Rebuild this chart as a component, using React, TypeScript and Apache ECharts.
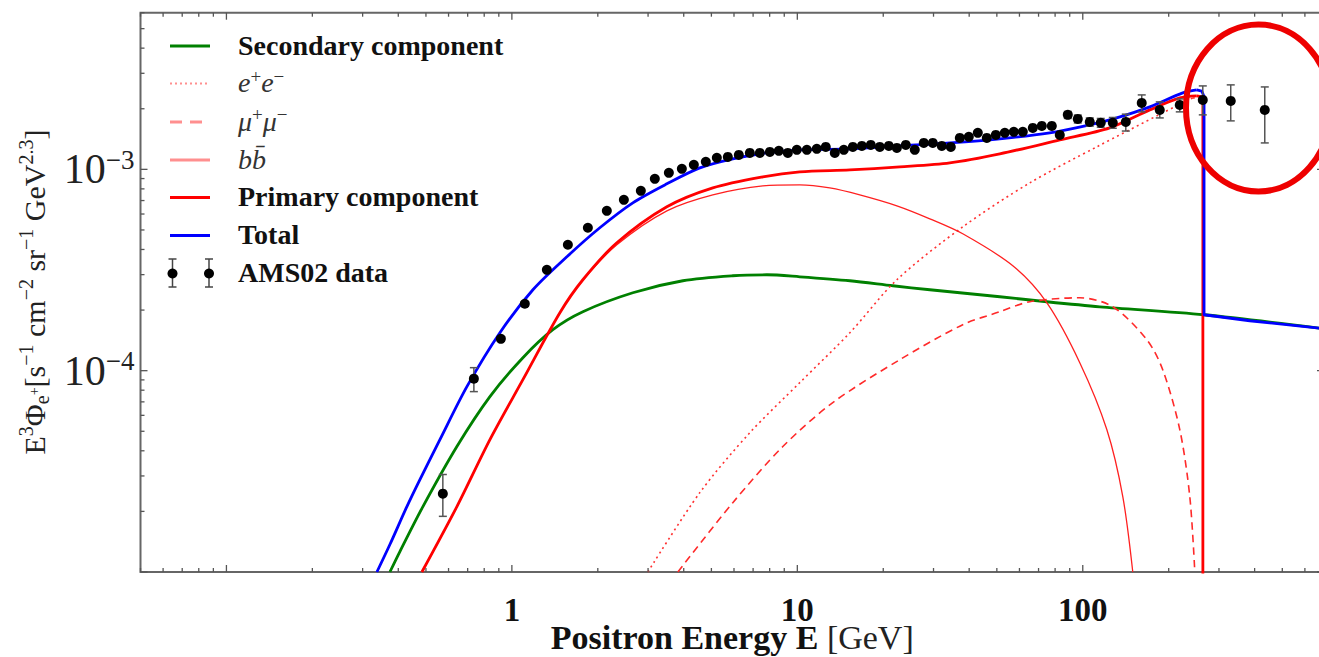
import React, { useEffect, useRef } from "react";
import * as echarts from "echarts";

const WIDTH = 1319;
const HEIGHT = 657;

const X_MIN = 0.05;
const X_MAX = 700;
const Y_MIN = 1e-5;
const Y_MAX = 6e-3;

// tick labels
const xLabelValues = [1, 10, 100];
const xLabelTexts = ["1", "10", "100"];
const yLabelValues = [1e-4, 1e-3];
const yLabelExponents = ["\u22124", "\u22123"];

// tick positions
const xMajorTicks = [0.1, 1, 10, 100];
const xMinorTicks = [0.05, 0.06, 0.07, 0.08, 0.09, 0.2, 0.3, 0.4, 0.5, 0.6, 0.7, 0.8, 0.9, 2, 3, 4, 5, 6, 7, 8, 9, 20, 30, 40, 50, 60, 70, 80, 90, 200, 300, 400, 500, 600, 700];
const yMajorTicks = [1e-5, 1e-4, 1e-3];
const yMinorTicks = [2e-5, 3e-5, 4e-5, 5e-5, 6e-5, 7e-5, 8e-5, 9e-5, 2e-4, 3e-4, 4e-4, 5e-4, 6e-4, 7e-4, 8e-4, 9e-4, 2e-3, 3e-3, 4e-3, 5e-3, 6e-3];

// Secondary component (green)
const secondaryE = [0.3738, 0.4052, 0.4879, 0.6418, 0.8377, 1.093, 1.392, 1.773, 2.653, 3.972, 5.943, 7.819, 10.2, 15.28, 21.6, 29.12, 51.21, 74.79, 114.7, 266, 700];
const secondaryF = [1.0e-5, 1.264e-5, 2.113e-5, 4.2e-5, 7.43e-5, 1.16e-4, 1.598e-4, 1.963e-4, 2.438e-4, 2.797e-4, 2.961e-4, 2.995e-4, 2.927e-4, 2.797e-4, 2.642e-4, 2.523e-4, 2.329e-4, 2.2e-4, 2.077e-4, 1.896e-4, 1.616e-4];

// e+e- channel (dotted)
const eeE = [2.995, 4.555, 6.818, 10.2, 15.28, 22.32, 37.98, 65.23, 111.9, 190.6, 242.8];
const eeF = [1.0e-5, 2.48e-5, 4.92e-5, 8.72e-5, 1.544e-4, 2.829e-4, 5.18e-4, 8.57e-4, 1.293e-3, 1.908e-3, 2.263e-3];
const eeCutE = [242.8, 263.5, 263.5];
const eeCutF = [2.263e-3, 2.25e-3, 1.0e-7];

// mu+mu- channel (dashed)
const mumuE = [3.814, 5.943, 8.897, 13.31, 22.86, 37.98, 51.21, 65.23, 97.61, 127.4, 167.6, 190.6, 218.7, 237.1, 246.9];
const mumuF = [1.0e-5, 2.21e-5, 4.2e-5, 6.94e-5, 1.134e-4, 1.692e-4, 1.963e-4, 2.2e-4, 2.303e-4, 2.077e-4, 1.425e-4, 1.011e-4, 5.1e-5, 2.37e-5, 1.0e-5];

// b bbar channel (thin)
const bbE = [0.4839, 0.6418, 0.8377, 1.093, 1.473, 1.773, 2.332, 3.491, 5.058, 7.573, 10.2, 12.99, 16.55, 22.32, 29.12, 37.98, 56.87, 74.79, 97.61, 121.4, 138.1, 149.7];
const bbF = [1.0e-5, 2.113e-5, 4.545e-5, 9.02e-5, 1.94e-4, 2.81e-4, 4.22e-4, 6.22e-4, 7.47e-4, 8.28e-4, 8.38e-4, 8.09e-4, 7.47e-4, 6.59e-4, 5.68e-4, 4.785e-4, 3.32e-4, 2.176e-4, 1.096e-4, 5.1e-5, 2.37e-5, 1.0e-5];

// Primary component (red)
const primaryE = [0.4839, 0.6418, 0.8377, 1.093, 1.473, 1.773, 2.332, 3.491, 5.058, 7.573, 10.2, 15.28, 22.86, 34.21, 51.21, 83.08, 124.3, 171.7, 218.7, 250.8];
const primaryF = [1.0e-5, 2.113e-5, 4.545e-5, 9.02e-5, 1.94e-4, 2.829e-4, 4.317e-4, 6.515e-4, 8.093e-4, 9.18e-4, 9.72e-4, 9.94e-4, 1.029e-3, 1.077e-3, 1.194e-3, 1.401e-3, 1.607e-3, 1.974e-3, 2.263e-3, 2.316e-3];
const primaryCutE = [250.8, 260, 263.5, 263.5];
const primaryCutF = [2.316e-3, 2.3e-3, 2.21e-3, 1.0e-7];

// Total (blue)
const totalE = [0.3366, 0.3738, 0.4287, 0.4762, 0.5596, 0.6957, 0.9078, 1.185, 1.558, 2.033, 2.653, 3.491, 4.555, 5.943, 7.819, 10.2, 15.28, 22.86, 34.21, 51.21, 76.63, 105.8, 131.5, 171.7, 224.0, 250.8];
const totalF = [1.0e-5, 1.369e-5, 2.113e-5, 2.878e-5, 4.545e-5, 8.329e-5, 1.544e-4, 2.523e-4, 3.679e-4, 5.127e-4, 6.819e-4, 8.472e-4, 1.017e-3, 1.128e-3, 1.207e-3, 1.25e-3, 1.264e-3, 1.308e-3, 1.353e-3, 1.417e-3, 1.518e-3, 1.663e-3, 1.801e-3, 2.043e-3, 2.397e-3, 2.481e-3];
const totalCutE = [250.8, 261, 266, 266, 384.6, 700];
const totalCutF = [2.481e-3, 2.45e-3, 2.3e-3, 1.896e-4, 1.77e-4, 1.616e-4];

// AMS02 data
const amsE = [0.573, 0.736, 0.915, 1.11, 1.326, 1.571, 1.846, 2.151, 2.468, 2.83, 3.168, 3.548, 3.94, 4.34, 4.78, 5.224, 5.709, 6.238, 6.818, 7.39, 8.013, 8.614, 9.263, 9.96, 10.8, 11.7, 12.58, 13.53, 14.55, 15.65, 16.83, 18.09, 19.45, 20.92, 22.32, 23.99, 25.79, 27.74, 29.83, 32.07, 34.49, 37.09, 39.88, 42.88, 46.11, 49.58, 53.32, 57.33, 61.65, 66.83, 71.86, 77.9, 83.08, 88.62, 96.05, 105.8, 115.6, 127.4, 141.5, 160.9, 186.1, 218.7, 263.3, 329.9, 434.1];
const amsF = [2.45e-5, 9.13e-5, 1.44e-4, 2.15e-4, 3.17e-4, 4.22e-4, 5.13e-4, 6.22e-4, 7.06e-4, 7.82e-4, 8.97e-4, 9.61e-4, 1.006e-3, 1.053e-3, 1.09e-3, 1.141e-3, 1.153e-3, 1.18e-3, 1.207e-3, 1.207e-3, 1.221e-3, 1.236e-3, 1.207e-3, 1.25e-3, 1.25e-3, 1.264e-3, 1.293e-3, 1.207e-3, 1.25e-3, 1.293e-3, 1.308e-3, 1.323e-3, 1.293e-3, 1.308e-3, 1.278e-3, 1.323e-3, 1.25e-3, 1.353e-3, 1.353e-3, 1.308e-3, 1.293e-3, 1.433e-3, 1.45e-3, 1.518e-3, 1.433e-3, 1.483e-3, 1.518e-3, 1.536e-3, 1.536e-3, 1.607e-3, 1.644e-3, 1.644e-3, 1.483e-3, 1.865e-3, 1.781e-3, 1.721e-3, 1.702e-3, 1.702e-3, 1.721e-3, 2.138e-3, 1.974e-3, 2.09e-3, 2.213e-3, 2.188e-3, 1.974e-3];
const amsErrLo = [1.89e-5, 7.87e-5, null, null, null, null, null, null, null, null, null, null, null, null, null, null, null, null, null, null, null, null, null, null, null, null, null, null, null, null, null, null, null, null, null, null, null, null, null, null, null, null, null, null, null, null, null, null, null, null, null, null, null, 1.79e-3, 1.70e-3, 1.64e-3, 1.62e-3, 1.60e-3, 1.55e-3, 1.93e-3, 1.801e-3, 1.93e-3, 1.865e-3, 1.741e-3, 1.353e-3];
const amsErrHi = [3.05e-5, 1.035e-4, null, null, null, null, null, null, null, null, null, null, null, null, null, null, null, null, null, null, null, null, null, null, null, null, null, null, null, null, null, null, null, null, null, null, null, null, null, null, null, null, null, null, null, null, null, null, null, null, null, null, null, 1.94e-3, 1.86e-3, 1.80e-3, 1.79e-3, 1.81e-3, 1.88e-3, 2.343e-3, 2.163e-3, 2.238e-3, 2.597e-3, 2.628e-3, 2.567e-3];

// legend entries
const legendLabels = ["Secondary component", "e+e\u2212", "\u03bc+\u03bc\u2212", "bb\u0304", "Primary component", "Total", "AMS02 data"];

const SERIF = '"Liberation Serif", "Times New Roman", serif';
const RED = "#ff0000";
const BLUE = "#0000ff";
const GREEN = "#008000";
const FRAME = "#666666";
const TICK = "#555555";

const pts = (xs: number[], ys: number[]) => xs.map((x, i) => [x, ys[i]]);

const isNear = (a: number, b: number) => Math.abs(Math.log10(a) - Math.log10(b)) < 1e-6;

function lineSeries(name: string, xs: number[], ys: number[], color: string, width: number, type: any, smooth: any, z: number) {
  return {
    name,
    type: "line",
    data: pts(xs, ys),
    showSymbol: false,
    symbol: "none",
    smooth,
    silent: true,
    clip: true,
    z,
    emphasis: { disabled: true },
    lineStyle: { color, width, type, cap: "butt", join: "round" },
  };
}

export default function App() {
  const ref = useRef<HTMLDivElement>(null);

  useEffect(() => {
    const chart = echarts.init(ref.current as HTMLDivElement, null, { renderer: "svg", width: WIDTH, height: HEIGHT });

    const xTickData = [
      ...xMajorTicks.map((v) => [v, Y_MIN, 1]),
      ...xMinorTicks.map((v) => [v, Y_MIN, 0]),
    ];
    const yTickData = [
      ...yMajorTicks.map((v) => [X_MIN, v, 1]),
      ...yMinorTicks.map((v) => [X_MIN, v, 0]),
    ];
    const errData = amsE
      .map((e, i) => [e, amsErrLo[i], amsErrHi[i]])
      .filter((d) => d[1] != null && d[2] != null);

    const tickStyle = { stroke: TICK, lineWidth: 1.3 };

    // legend graphics
    const rowY = [46, 83.5, 122, 160, 197.5, 235.5, 273.5];
    const lx1 = 170;
    const lx2 = 210;
    const tx = 238;
    const legendEls: any[] = [];
    const sample = (y: number, stroke: string, lw: number, dash: any) => ({
      type: "line",
      z: 100,
      silent: true,
      shape: { x1: lx1, y1: y, x2: lx2, y2: y },
      style: { stroke, lineWidth: lw, lineDash: dash, lineCap: "butt" },
    });
    legendEls.push(sample(rowY[0], GREEN, 3, null));
    legendEls.push(sample(rowY[1], "#ff8f8f", 2.2, [2, 3]));
    legendEls.push(sample(rowY[2], "#ff8f8f", 3, [12, 8]));
    legendEls.push(sample(rowY[3], "#ff8f8f", 3, null));
    legendEls.push(sample(rowY[4], RED, 3, null));
    legendEls.push(sample(rowY[5], BLUE, 3, null));
    [172.5, 209].forEach((x) => {
      legendEls.push({ type: "line", z: 100, silent: true, shape: { x1: x, y1: 259, x2: x, y2: 287 }, style: { stroke: "#444", lineWidth: 1.5 } });
      legendEls.push({ type: "line", z: 100, silent: true, shape: { x1: x - 4, y1: 259, x2: x + 4, y2: 259 }, style: { stroke: "#444", lineWidth: 1.5 } });
      legendEls.push({ type: "line", z: 100, silent: true, shape: { x1: x - 4, y1: 287, x2: x + 4, y2: 287 }, style: { stroke: "#444", lineWidth: 1.5 } });
      legendEls.push({ type: "circle", z: 101, silent: true, shape: { cx: x, cy: rowY[6], r: 5 }, style: { fill: "#000" } });
    });

    const plainRich = {
      t: { fontFamily: SERIF, fontSize: 28, fontWeight: "bold", fill: "#111", color: "#111", lineHeight: 32 },
    };
    const mathRich = {
      i: { fontFamily: SERIF, fontSize: 28, fontStyle: "italic", fill: "#333", color: "#333", lineHeight: 32, verticalAlign: "middle" },
      p: { fontFamily: SERIF, fontSize: 19, fill: "#333", color: "#333", lineHeight: 19, verticalAlign: "top" },
    };
    const legendTexts = [
      { text: `{t|${legendLabels[0]}}`, rich: plainRich },
      { text: "{i|e}{p|+}{i|e}{p|\u2212}", rich: mathRich },
      { text: "{i|\u03bc}{p|+}{i|\u03bc}{p|\u2212}", rich: mathRich },
      { text: "{i|bb\u0304}", rich: mathRich },
      { text: `{t|${legendLabels[4]}}`, rich: plainRich },
      { text: `{t|${legendLabels[5]}}`, rich: plainRich },
      { text: `{t|${legendLabels[6]}}`, rich: plainRich },
    ];
    legendTexts.forEach((lt, i) => {
      legendEls.push({
        type: "text",
        z: 100,
        silent: true,
        x: tx,
        y: rowY[i] - 1,
        style: { text: lt.text, rich: lt.rich, align: "left", verticalAlign: "middle", fontFamily: SERIF, fontSize: 28 },
      });
    });

    // y-axis title
    const yTitle = {
      type: "text",
      z: 100,
      silent: true,
      x: 34,
      y: 292,
      rotation: Math.PI / 2,
      style: {
        text: "{n|E}{sp|3}{n|\u03a6}{sb|e}{sbp|+}{n|[s}{sp|\u22121}{n| cm}{sp|\u22122}{n| sr}{sp|\u22121}{n| GeV}{sp|2.3}{n|]}",
        align: "center",
        verticalAlign: "middle",
        fontFamily: SERIF,
        fontSize: 30,
        rich: {
          n: { fontFamily: SERIF, fontSize: 30, lineHeight: 36, verticalAlign: "middle", fill: "#222", color: "#222" },
          sp: { fontFamily: SERIF, fontSize: 20, lineHeight: 20, verticalAlign: "top", fill: "#222", color: "#222" },
          sb: { fontFamily: SERIF, fontSize: 20, lineHeight: 20, verticalAlign: "bottom", fill: "#222", color: "#222" },
          sbp: { fontFamily: SERIF, fontSize: 14, lineHeight: 14, verticalAlign: "middle", fill: "#222", color: "#222" },
        },
      },
    };

    const circle = {
      type: "ellipse",
      z: 200,
      silent: true,
      shape: { cx: 1258.5, cy: 108, rx: 72.5, ry: 83.5 },
      style: { fill: "none", stroke: "#ee0000", lineWidth: 6 },
    };

    const option: any = {
      animation: false,
      backgroundColor: "#ffffff",
      grid: {
        left: 140.5,
        top: 12.7,
        right: -5,
        bottom: 85,
        show: true,
        containLabel: false,
        outerBoundsMode: "none",
        borderColor: FRAME,
        borderWidth: 2,
        backgroundColor: "transparent",
      },
      xAxis: {
        type: "log",
        logBase: 10,
        min: X_MIN,
        max: X_MAX,
        axisLine: { show: false },
        axisTick: { show: false },
        minorTick: { show: false },
        splitLine: { show: false },
        axisLabel: {
          show: true,
          margin: 25,
          fontFamily: SERIF,
          fontSize: 33,
          fontWeight: "bold",
          color: "#111",
          lineHeight: 26,
          showMinLabel: true,
          showMaxLabel: true,
          hideOverlap: false,
          formatter: (v: number) => {
            const idx = xLabelValues.findIndex((lv) => isNear(v, lv));
            return idx >= 0 ? xLabelTexts[idx] : "";
          },
        },
        name: "{b|Positron Energy E} {r|[GeV]}",
        nameLocation: "middle",
        nameGap: 52,
        nameMoveOverlap: false,
        nameTextStyle: {
          fontFamily: SERIF,
          fontSize: 34,
          lineHeight: 26,
          color: "#111",
          rich: {
            b: { fontFamily: SERIF, fontSize: 34, fontWeight: "bold", color: "#111", lineHeight: 26 },
            r: { fontFamily: SERIF, fontSize: 34, color: "#222", lineHeight: 26 },
          },
        },
      },
      yAxis: {
        type: "log",
        logBase: 10,
        min: Y_MIN,
        max: Y_MAX,
        axisLine: { show: false },
        axisTick: { show: false },
        minorTick: { show: false },
        splitLine: { show: false },
        axisLabel: {
          show: true,
          margin: 6,
          hideOverlap: false,
          formatter: (v: number) => {
            const idx = yLabelValues.findIndex((lv) => isNear(v, lv));
            return idx >= 0 ? `{b|10}{s|${yLabelExponents[idx]}}` : "";
          },
          rich: {
            b: { fontFamily: SERIF, fontSize: 42, lineHeight: 46, color: "#222", verticalAlign: "middle" },
            s: { fontFamily: SERIF, fontSize: 27, lineHeight: 27, color: "#222", verticalAlign: "top" },
          },
        },
      },
      graphic: { elements: [...legendEls, yTitle, circle] },
      series: [
        lineSeries("Secondary component", secondaryE, secondaryF, GREEN, 2.8, "solid", 0.3, 3),
        lineSeries("e+e-", eeE, eeF, "#ff3030", 1.6, [2, 3.5], 0.3, 4),
        lineSeries("e+e- cut", eeCutE, eeCutF, "#ff3030", 1.6, [2, 3.5], false, 4),
        lineSeries("mu+mu-", mumuE, mumuF, "#ff2a2a", 1.6, [7.5, 5], 0.3, 5),
        lineSeries("bbbar", bbE, bbF, "#ff2020", 1.3, "solid", 0.3, 6),
        lineSeries("Primary component", primaryE, primaryF, RED, 2.8, "solid", 0.3, 7),
        lineSeries("Primary cut", primaryCutE, primaryCutF, RED, 2.8, "solid", false, 7),
        lineSeries("Total", totalE, totalF, BLUE, 2.8, "solid", 0.3, 8),
        lineSeries("Total cut", totalCutE, totalCutF, BLUE, 2.8, "solid", false, 8),
        {
          name: "AMS02 error",
          type: "custom",
          silent: true,
          z: 9,
          encode: { x: 0, y: [1, 2] },
          data: errData,
          renderItem: (params: any, api: any) => {
            const e = api.value(0);
            const p1 = api.coord([e, api.value(1)]);
            const p2 = api.coord([e, api.value(2)]);
            const st = { stroke: "#555555", lineWidth: 1.5 };
            return {
              type: "group",
              children: [
                { type: "line", shape: { x1: p1[0], y1: p1[1], x2: p2[0], y2: p2[1] }, style: st },
                { type: "line", shape: { x1: p1[0] - 4, y1: p1[1], x2: p1[0] + 4, y2: p1[1] }, style: st },
                { type: "line", shape: { x1: p2[0] - 4, y1: p2[1], x2: p2[0] + 4, y2: p2[1] }, style: st },
              ],
            };
          },
        },
        {
          name: "AMS02 data",
          type: "scatter",
          silent: true,
          z: 10,
          symbol: "circle",
          symbolSize: 10,
          itemStyle: { color: "#000", opacity: 1 },
          emphasis: { disabled: true },
          data: pts(amsE, amsF),
        },
        {
          name: "x ticks",
          type: "custom",
          silent: true,
          z: 20,
          clip: false,
          data: xTickData,
          renderItem: (params: any, api: any) => {
            const v = api.value(0);
            const len = api.value(2) ? 7 : 4;
            const b = api.coord([v, Y_MIN]);
            const t = api.coord([v, Y_MAX]);
            return {
              type: "group",
              children: [
                { type: "line", shape: { x1: b[0], y1: b[1], x2: b[0], y2: b[1] - len }, style: tickStyle },
                { type: "line", shape: { x1: t[0], y1: t[1], x2: t[0], y2: t[1] + len }, style: tickStyle },
              ],
            };
          },
        },
        {
          name: "y ticks",
          type: "custom",
          silent: true,
          z: 20,
          clip: false,
          data: yTickData,
          renderItem: (params: any, api: any) => {
            const v = api.value(1);
            const len = api.value(2) ? 7 : 4;
            const l = api.coord([X_MIN, v]);
            const r = api.coord([X_MAX, v]);
            return {
              type: "group",
              children: [
                { type: "line", shape: { x1: l[0], y1: l[1], x2: l[0] + len, y2: l[1] }, style: tickStyle },
                { type: "line", shape: { x1: r[0], y1: r[1], x2: r[0] - len, y2: r[1] }, style: tickStyle },
              ],
            };
          },
        },
      ],
    };

    chart.setOption(option);
    return () => {
      chart.dispose();
    };
  }, []);

  return (
    <div
      ref={ref}
      style={{ position: "absolute", left: 0, top: 0, width: WIDTH, height: HEIGHT, overflow: "hidden", background: "#fff" }}
    />
  );
}
